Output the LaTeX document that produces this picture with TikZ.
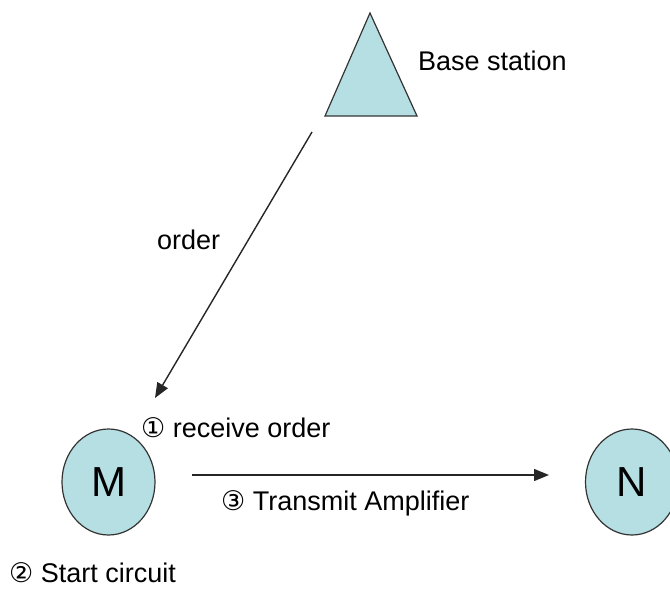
\documentclass[tikz,border=0pt]{standalone}
\usepackage{fontspec}
\setmainfont{Liberation Sans}
\newfontfamily\symfont{DejaVu Sans}
\usetikzlibrary{shapes.geometric,arrows.meta}
\definecolor{nodefill}{RGB}{182,223,227}
\tikzset{
  lbl/.style={font=\fontsize{27}{31}\selectfont, inner sep=0pt, anchor=west},
  station/.style={draw=black!80, line width=1.2pt, fill=nodefill},
  unit/.style={ellipse, draw=black!80, line width=1.2pt, fill=nodefill, minimum width=93pt, minimum height=106pt, inner sep=0pt, font=\fontsize{42}{44}\selectfont},
  conn/.style={draw=black!85, line width=1.4pt, -{Triangle[length=15pt,width=12pt]}}
}
\begin{document}
\begin{tikzpicture}[x=1pt,y=-1pt]
\useasboundingbox (0,0) rectangle (670,591);
% base station triangle
\draw[station] (370,13) -- (417,116) -- (325,116) -- cycle;
\coordinate (bs) at (312,132);
\node[lbl] (bslabel) at (418,61) {Base station};
% nodes
\node[unit] (M) at (108.5,482) {M};
\node[unit] (N) at (632,482) {N};
% connectors
\coordinate (mtip) at (155,398);
\draw[conn] (bs) -- (mtip);
\coordinate (hs) at (192,475);
\coordinate (he) at (549,475);
\draw[conn] (hs) -- (he);
% labels
\node[lbl] (order) at (157,240) {order};
\node[lbl] (recv) at (141,428) {{\symfont ①} receive order};
\node[lbl] (trans) at (221,503) {{\symfont ③} Transmit Amplifier};
\node[lbl] (start) at (9,573) {{\symfont ②} Start circuit};
\end{tikzpicture}
\end{document}
